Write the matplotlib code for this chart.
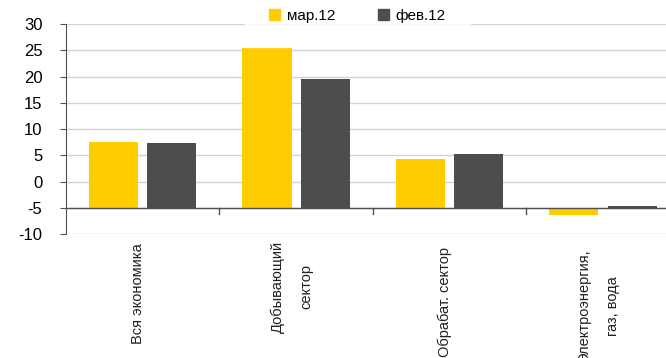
import numpy as np
import matplotlib.pyplot as plt
from matplotlib.patches import Patch

plt.rcParams['font.family'] = ['Liberation Sans', 'DejaVu Sans']

categories = ["Вся экономика", "Добывающий\nсектор", "Обрабат. сектор", "Электроэнергия,\nгаз, вода"]
mar12 = [7.5, 25.4, 4.3, -6.3]
feb12 = [7.3, 19.6, 5.2, -4.6]
yticks = [-10, -5, 0, 5, 10, 15, 20, 25, 30]
base = -5

yellow = "#FFCC00"
dark = "#4D4D4D"
axis_col = "#505050"

fig = plt.figure(figsize=(6.66, 3.58), dpi=100)
ax = fig.add_axes([0.099, 0.3464, 0.901, 0.5858])

x = np.arange(len(categories))
w = 0.32
ax.bar(x - 0.19, np.array(mar12) - base, w, bottom=base, color=yellow, zorder=3)
ax.bar(x + 0.19, np.array(feb12) - base, w, bottom=base, color=dark, zorder=3)

ax.set_ylim(-10, 30)
ax.set_xlim(-0.5, 3.41)
ax.set_yticks(yticks)
ax.set_yticklabels([str(t) for t in yticks], fontsize=12)
ax.yaxis.grid(True, color="#d3d3d3", linewidth=1, zorder=0)
ax.set_axisbelow(True)

for s in ["top", "right", "bottom"]:
    ax.spines[s].set_visible(False)
ax.spines["left"].set_color(axis_col)
ax.spines["left"].set_bounds(-10, 30)
ax.axhline(base, color=axis_col, linewidth=1, zorder=4)
ax.tick_params(axis="y", length=4.5, color=axis_col, pad=12.5)

# category separators on the baseline
ax.set_xticks([])
for b in [0.5, 1.5, 2.5]:
    ax.plot([b, b], [base, base - 1.15], color=axis_col, linewidth=1, clip_on=False)

# rotated category labels (slightly left of centre, as in the original)
label_top = [-11.8, -11.3, -12.4, -12.9]
for i, c in enumerate(categories):
    ax.text(i - 0.03, label_top[i], c, rotation=90, ha="center", va="top", fontsize=10.5,
            multialignment="center", linespacing=2.3, color="#202020")

handles = [Patch(color=yellow, label="мар.12"), Patch(color=dark, label="фев.12")]
leg = ax.legend(handles=handles, loc="center", bbox_to_anchor=(0.486, 1.04), ncol=2,
                frameon=True, fontsize=11, handlelength=0.72, handleheight=0.72,
                columnspacing=2.75, handletextpad=0.45, borderpad=0.4, borderaxespad=0)
leg.get_frame().set_facecolor("white")
leg.get_frame().set_edgecolor("white")
leg.get_frame().set_boxstyle("square", pad=1.2)

fig.savefig("out.png", dpi=100)
